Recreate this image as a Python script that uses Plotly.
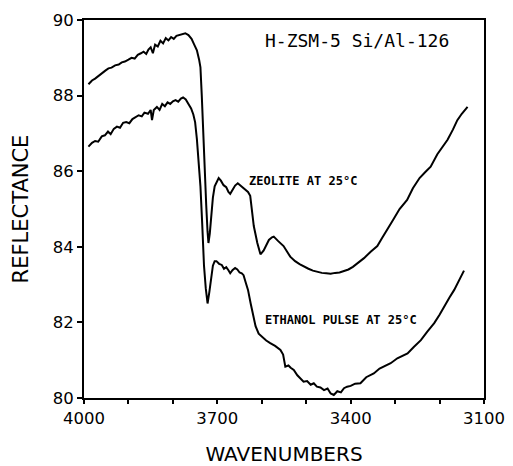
import plotly.graph_objects as go

# Zeolite at 25 C (upper curve)
zeo_w = [3990, 3982, 3975, 3968, 3960, 3952, 3945, 3938, 3930, 3922, 3915, 3908, 3900, 3893, 3886,
         3879, 3872, 3866, 3860, 3855, 3850, 3845, 3840, 3834, 3828, 3822, 3816, 3810, 3804, 3798,
         3792, 3786, 3780, 3772, 3765, 3758, 3752, 3746, 3741, 3738, 3735, 3732, 3728, 3725, 3722,
         3720, 3717, 3714, 3710, 3706, 3701, 3697, 3692, 3686, 3680, 3675, 3671, 3666, 3660, 3654,
         3648, 3642, 3637, 3631, 3626, 3618, 3610, 3603, 3596, 3590, 3584, 3577, 3573, 3563, 3551,
         3536, 3525, 3515, 3505, 3495, 3485, 3475, 3465, 3455, 3445, 3435, 3425, 3415, 3405, 3395,
         3385, 3370, 3355, 3340, 3330, 3318, 3305, 3290, 3273, 3260, 3245, 3232, 3220, 3205, 3192,
         3182, 3170, 3160, 3150, 3137]
zeo_r = [88.30, 88.40, 88.45, 88.52, 88.58, 88.66, 88.72, 88.74, 88.80, 88.82, 88.88, 88.90, 88.95, 89.00, 88.98,
         89.08, 89.12, 89.16, 89.10, 89.22, 89.28, 89.12, 89.35, 89.30, 89.45, 89.38, 89.52, 89.46, 89.55, 89.50,
         89.58, 89.60, 89.64, 89.65, 89.60, 89.50, 89.35, 89.20, 88.95, 88.75, 88.00, 87.00, 86.00, 85.10, 84.40,
         84.10, 84.35, 84.80, 85.30, 85.60, 85.75, 85.82, 85.75, 85.63, 85.58, 85.45, 85.40, 85.50, 85.62, 85.68,
         85.62, 85.58, 85.52, 85.45, 85.35, 84.55, 84.10, 83.80, 83.90, 84.05, 84.18, 84.25, 84.27, 84.15, 84.02,
         83.74, 83.62, 83.54, 83.47, 83.42, 83.37, 83.33, 83.31, 83.30, 83.29, 83.31, 83.32, 83.36, 83.40, 83.47,
         83.56, 83.70, 83.87, 84.02, 84.22, 84.44, 84.70, 85.00, 85.24, 85.55, 85.82, 85.98, 86.12, 86.45, 86.68,
         86.83, 87.10, 87.35, 87.52, 87.70]

# Ethanol pulse at 25 C (lower curve)
eth_w = [3990, 3982, 3975, 3968, 3960, 3953, 3946, 3940, 3933, 3926, 3919, 3912, 3905, 3898, 3891,
         3884, 3877, 3870, 3864, 3856, 3850, 3847, 3843, 3836, 3830, 3824, 3818, 3812, 3806, 3800,
         3794, 3788, 3782, 3777, 3771, 3765, 3759, 3754, 3750, 3746, 3742, 3738, 3734, 3730, 3726,
         3722, 3718, 3714, 3710, 3706, 3702, 3696, 3690, 3685, 3680, 3675, 3671, 3666, 3660, 3655,
         3650, 3645, 3641, 3636, 3631, 3625, 3619, 3614, 3607, 3600, 3590, 3581, 3570, 3558, 3552,
         3547, 3540, 3535, 3528, 3520, 3512, 3506, 3498, 3490, 3483, 3476, 3468, 3460, 3452, 3445,
         3438, 3430, 3422, 3415, 3408, 3400, 3390, 3378, 3365, 3355, 3348, 3335, 3322, 3310, 3295,
         3283, 3272, 3258, 3242, 3228, 3212, 3200, 3190, 3178, 3167, 3155, 3145]
eth_r = [86.65, 86.75, 86.80, 86.78, 86.92, 86.95, 87.05, 86.98, 87.12, 87.18, 87.15, 87.28, 87.30, 87.27, 87.38,
         87.42, 87.48, 87.45, 87.55, 87.52, 87.62, 87.35, 87.62, 87.70, 87.62, 87.78, 87.72, 87.82, 87.78, 87.85,
         87.88, 87.84, 87.92, 87.95, 87.90, 87.78, 87.66, 87.50, 87.30, 86.85, 86.20, 85.60, 84.60, 83.50, 82.90,
         82.50, 82.80, 83.20, 83.50, 83.62, 83.62, 83.55, 83.52, 83.42, 83.46, 83.38, 83.30, 83.38, 83.44, 83.40,
         83.32, 83.30, 83.25, 83.05, 82.86, 82.50, 82.15, 81.90, 81.70, 81.62, 81.52, 81.45, 81.38, 81.27, 81.15,
         80.83, 80.86, 80.80, 80.74, 80.60, 80.50, 80.43, 80.45, 80.35, 80.39, 80.30, 80.28, 80.21, 80.25, 80.12,
         80.08, 80.18, 80.15, 80.26, 80.30, 80.32, 80.38, 80.39, 80.55, 80.60, 80.65, 80.78, 80.85, 80.92, 81.05,
         81.12, 81.18, 81.35, 81.53, 81.75, 81.98, 82.20, 82.42, 82.65, 82.86, 83.12, 83.37]

x_ticks = [4000, 3700, 3400, 3100]
y_ticks = [80, 82, 84, 86, 88, 90]

fig = go.Figure()
fig.add_trace(go.Scatter(x=zeo_w, y=zeo_r, mode="lines", line=dict(color="black", width=2), showlegend=False))
fig.add_trace(go.Scatter(x=eth_w, y=eth_r, mode="lines", line=dict(color="black", width=2), showlegend=False))

fig.add_annotation(x=3597, y=89.47, text="H-ZSM-5 Si/Al-126", showarrow=False,
                   font=dict(family="DejaVu Sans Mono", size=18, color="black"), xanchor="left", yanchor="middle")
fig.add_annotation(x=3633, y=85.74, text="<b>ZEOLITE AT 25°C</b>", showarrow=False,
                   font=dict(family="DejaVu Sans Mono", size=12, color="black"), xanchor="left", yanchor="middle")
fig.add_annotation(x=3597, y=82.06, text="<b>ETHANOL PULSE AT 25°C</b>", showarrow=False,
                   font=dict(family="DejaVu Sans Mono", size=12, color="black"), xanchor="left", yanchor="middle")

fig.update_layout(
    width=513, height=466,
    margin=dict(l=84, r=29, t=20, b=68),
    plot_bgcolor="white", paper_bgcolor="white",
    font=dict(family="DejaVu Sans", color="black"),
)
fig.update_xaxes(range=[4000, 3100], tickvals=x_ticks, ticktext=[str(v) for v in x_ticks],
                 automargin=False,
                 showgrid=False, zeroline=False, showline=True, linecolor="black", linewidth=2, mirror=True,
                 ticks="outside", ticklen=4, tickwidth=1.5, tickcolor="black",
                 minor=dict(dtick=100, tick0=4000, ticks="outside", ticklen=4, tickwidth=1.5, tickcolor="black"),
                 tickfont=dict(size=16.5, family="DejaVu Sans"),
                 title=dict(text="WAVENUMBERS", font=dict(size=20, family="DejaVu Sans"), standoff=22))
fig.update_yaxes(range=[80, 90], tickvals=y_ticks, ticktext=[str(v) for v in y_ticks],
                 automargin=False,
                 showgrid=False, zeroline=False, showline=True, linecolor="black", linewidth=2, mirror=True,
                 ticks="outside", ticklen=5, tickwidth=1.5, tickcolor="black",
                 tickfont=dict(size=16.5, family="DejaVu Sans"),
                 title=dict(text="REFLECTANCE", font=dict(size=21, family="DejaVu Sans"), standoff=18))

fig.write_html("out.html")
